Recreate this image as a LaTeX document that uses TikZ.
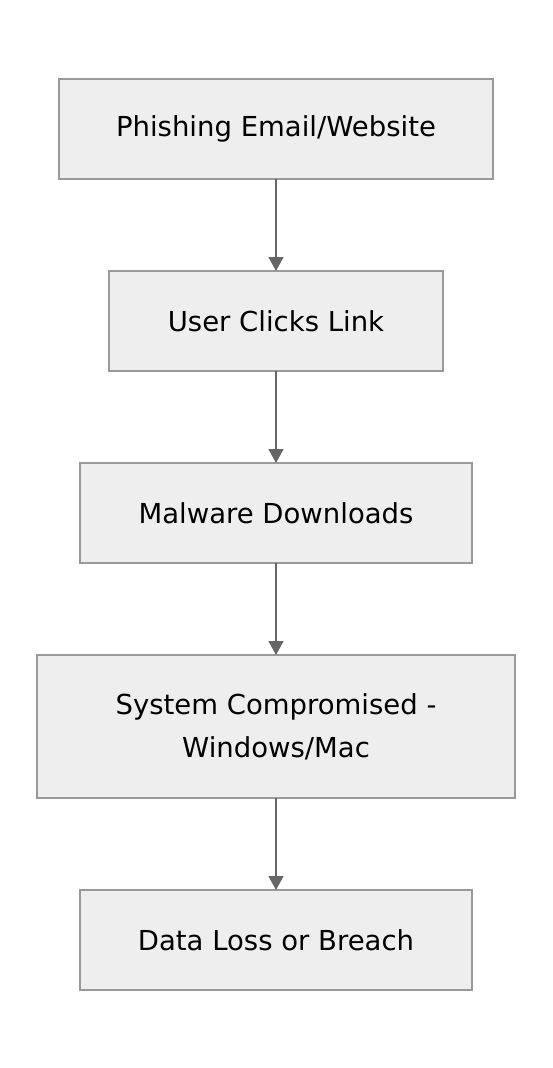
\documentclass[tikz,border=0pt]{standalone}
\usepackage{fontspec}
\setmainfont{DejaVu Sans}
\usepackage{tikz}
\usetikzlibrary{positioning, arrows.meta}
\definecolor{boxfill}{HTML}{EEEEEE}
\definecolor{boxline}{HTML}{999999}
\definecolor{arrowgray}{HTML}{666666}

\begin{document}
\begin{tikzpicture}[x=1pt, y=1pt,
    stage/.style={draw=boxline, fill=boxfill, line width=1.3pt, outer sep=0pt,
      minimum height=100pt, align=center, font=\fontsize{27.5}{43}\selectfont},
    flow/.style={draw=arrowgray, line width=1.5pt, -{Triangle[length=14pt, width=15pt]}}]

  \useasboundingbox (0, 0) rectangle (552, -1068);

  \node[stage, minimum width=434pt] (email) at (276, -129) {Phishing Email/Website};
  \node[stage, minimum width=334pt, below=92pt of email] (click) {User Clicks Link};
  \node[stage, minimum width=392pt, below=92pt of click] (malware) {Malware Downloads};
  \node[stage, minimum width=478pt, minimum height=143pt, below=92pt of malware] (system)
    {System Compromised -\\Windows/Mac};
  \node[stage, minimum width=392pt, below=92pt of system] (loss) {Data Loss or Breach};

  \draw[flow] (email) -- (click);
  \draw[flow] (click) -- (malware);
  \draw[flow] (malware) -- (system);
  \draw[flow] (system) -- (loss);

\end{tikzpicture}
\end{document}
